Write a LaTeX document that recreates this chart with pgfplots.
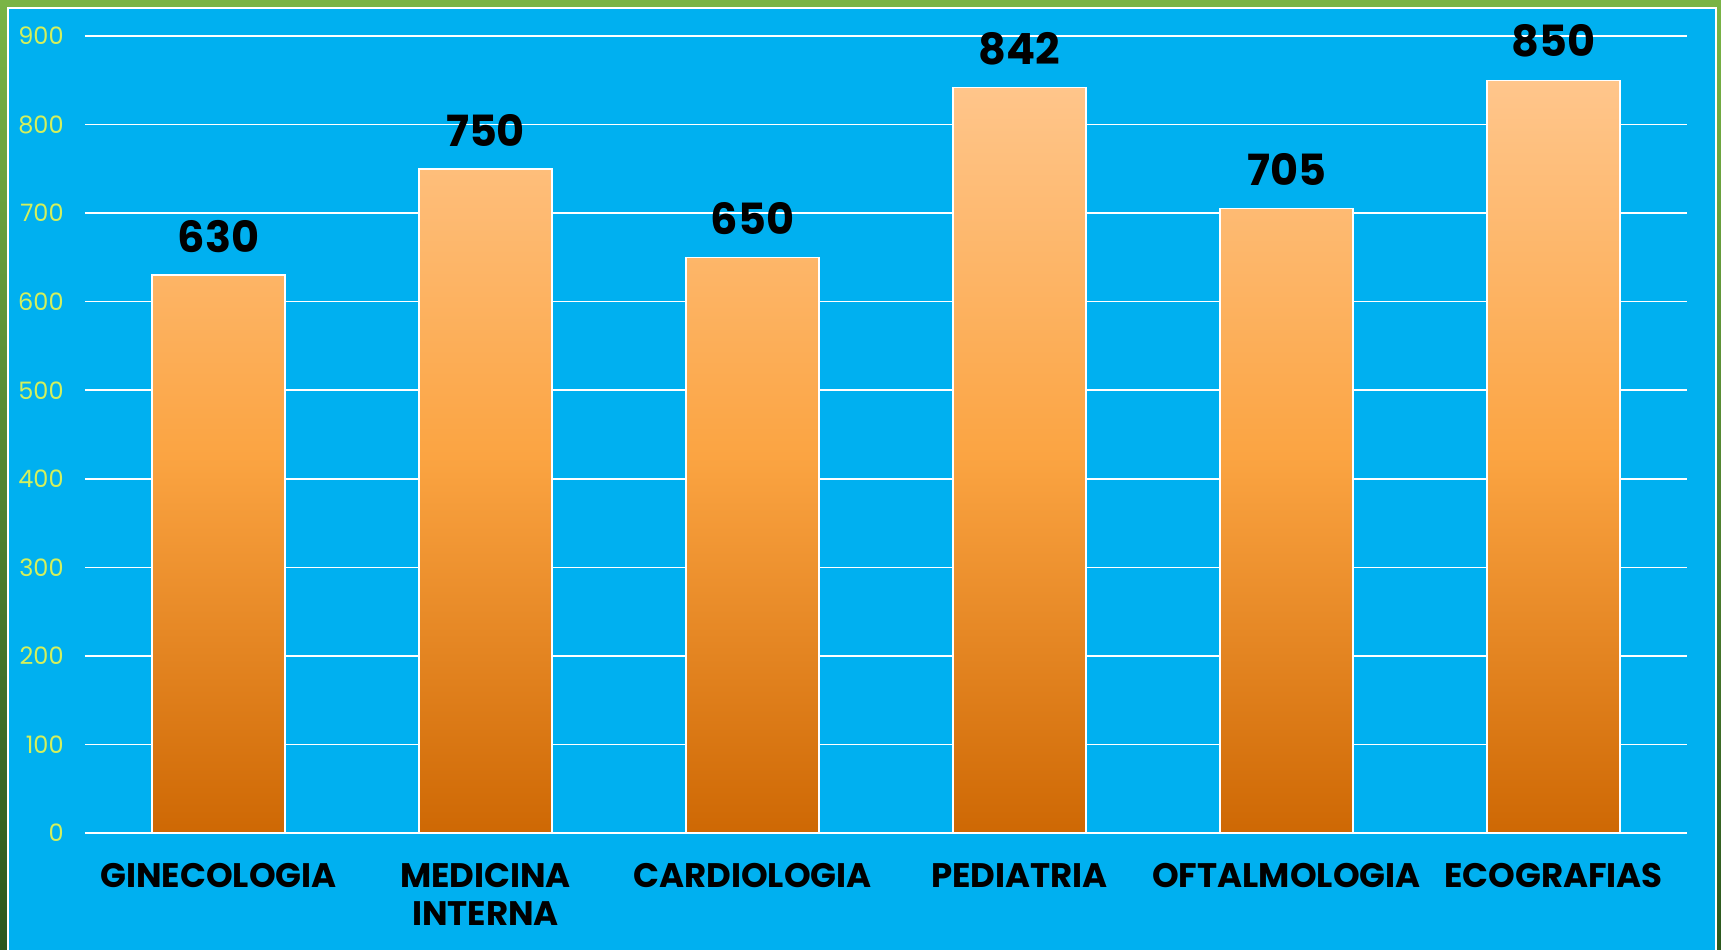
\documentclass[border=0pt]{standalone}
\usepackage{pgfplots}
\pgfplotsset{compat=1.18}
\usepackage{fontspec}
\setmainfont{Poppins}
\definecolor{bgblue}{RGB}{0,176,240}
\definecolor{ticky}{RGB}{212,240,92}
\definecolor{gtop}{RGB}{122,180,70}
\definecolor{gbot}{RGB}{44,88,30}
\definecolor{btop}{RGB}{255,198,140}
\definecolor{bmid}{RGB}{251,164,66}
\definecolor{bbot}{RGB}{206,104,4}
\begin{document}
\begin{tikzpicture}
\useasboundingbox (0pt,0pt) rectangle (860.5pt,474.5pt);
\shade[top color=gtop, bottom color=gbot] (0pt,0pt) rectangle (860.5pt,474.5pt);
\fill[white] (3.5pt,-1pt) rectangle (858.5pt,471pt);
\fill[bgblue] (4.5pt,-1pt) rectangle (857.5pt,470pt);
\begin{axis}[
  at={(42.5pt,58pt)}, anchor=south west,
  scale only axis, width=801pt, height=398.5pt,
  xmin=-0.5, xmax=5.5, ymin=0, ymax=900,
  ybar, bar width=66.5pt,
  axis line style={draw=none},
  major tick length=0pt,
  ytick={0,100,...,900},
  ymajorgrids, grid style={white, line width=0.75pt},
  xtick={0,1,2,3,4,5},
  xticklabels={GINECOLOGIA,{MEDICINA\\INTERNA},CARDIOLOGIA,PEDIATRIA,OFTALMOLOGIA,ECOGRAFIAS},
  xticklabel style={align=center, anchor=north, inner sep=0pt, yshift=-15pt, text=black,
    font=\fontsize{17}{19}\bfseries\selectfont},
  yticklabel style={anchor=east, inner sep=0pt, xshift=-10.5pt, text=ticky,
    font=\fontsize{12}{12}\selectfont},
  /pgf/number format/assume math mode=true,
  nodes near coords,
  nodes near coords style={anchor=south, inner sep=0pt, yshift=11pt, text=black,
    font=\fontsize{21.5}{22}\bfseries\selectfont},
]
\addplot[draw=white, line width=0.75pt, top color=btop, bottom color=bbot, middle color=bmid]
  coordinates {(0,630) (1,750) (2,650) (3,842) (4,705) (5,850)};
\end{axis}
\end{tikzpicture}
\end{document}
